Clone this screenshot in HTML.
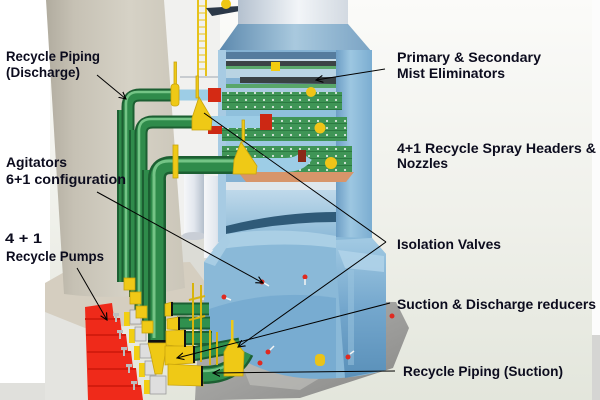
<!DOCTYPE html>
<html><head><meta charset="utf-8"><style>
html,body{margin:0;padding:0;background:#fff;}
svg{display:block;}
text{font-family:"Liberation Sans","Noto Sans CJK KR",sans-serif;font-weight:bold;font-size:14px;fill:#0c0c1e;}
</style></head><body>
<svg width="600" height="400" viewBox="0 0 600 400" xmlns="http://www.w3.org/2000/svg">
<defs>
 <linearGradient id="bg" x1="0" y1="0" x2="0" y2="1">
  <stop offset="0" stop-color="#fbfbf9"/><stop offset="0.55" stop-color="#eff0ea"/><stop offset="1" stop-color="#e3e6dc"/>
 </linearGradient>
 <linearGradient id="chim" x1="0" y1="0" x2="1" y2="0">
  <stop offset="0" stop-color="#b1ac9f"/><stop offset="0.2" stop-color="#c6c1b4"/><stop offset="0.6" stop-color="#d6d2c6"/><stop offset="1" stop-color="#cbc6b9"/>
 </linearGradient>
 <linearGradient id="duct" x1="0" y1="0" x2="1" y2="0">
  <stop offset="0" stop-color="#b4c1cf"/><stop offset="0.55" stop-color="#f2f5f8"/><stop offset="1" stop-color="#d2d9e1"/>
 </linearGradient>
 <linearGradient id="roof" x1="0" y1="0" x2="1" y2="0">
  <stop offset="0" stop-color="#5b88ad"/><stop offset="0.5" stop-color="#a9c9de"/><stop offset="1" stop-color="#7aa3c4"/>
 </linearGradient>
 <linearGradient id="col" x1="0" y1="0" x2="1" y2="0">
  <stop offset="0" stop-color="#6d9ec5"/><stop offset="0.4" stop-color="#9dc7e1"/><stop offset="1" stop-color="#7badd1"/>
 </linearGradient>
 <linearGradient id="col2" x1="0" y1="0" x2="0" y2="1">
  <stop offset="0" stop-color="#a2cae3"/><stop offset="0.5" stop-color="#74a7cd"/><stop offset="1" stop-color="#5a90b9"/>
 </linearGradient>
 <linearGradient id="inner" x1="0" y1="0" x2="0" y2="1">
  <stop offset="0" stop-color="#bfd9ea"/><stop offset="1" stop-color="#88b7d6"/>
 </linearGradient>
 <linearGradient id="plat" x1="0" y1="0" x2="1" y2="1">
  <stop offset="0" stop-color="#b8b8b5"/><stop offset="0.6" stop-color="#9c9c9a"/><stop offset="1" stop-color="#878785"/>
 </linearGradient>
 <linearGradient id="cyl" x1="0" y1="0" x2="1" y2="0">
  <stop offset="0" stop-color="#f6f7f9"/><stop offset="0.5" stop-color="#e2e7ee"/><stop offset="1" stop-color="#b4bfcc"/>
 </linearGradient>
 <pattern id="grate" width="9" height="7" patternUnits="userSpaceOnUse">
  <rect width="9" height="7" fill="#3f9556"/>
  <rect x="0" y="4" width="9" height="1" fill="#2b7a41"/>
  <circle cx="3" cy="2" r="1.1" fill="#dbe8df"/>
 </pattern>
 <marker id="ar" markerWidth="8" markerHeight="8" refX="7" refY="4" orient="auto" markerUnits="userSpaceOnUse">
  <path d="M0,0.5 L7,4 L0,7.5" fill="none" stroke="#000" stroke-width="1.1"/>
 </marker>
</defs>

<!-- background -->
<rect width="600" height="400" fill="url(#bg)"/>
<rect x="592" y="0" width="8" height="335" fill="#fcfcfc"/>
<rect x="592" y="335" width="8" height="65" fill="#d5d5d3"/>
<rect x="0" y="0" width="50" height="383" fill="#ffffff"/>
<rect x="0" y="383" width="90" height="17" fill="#e0e0dc"/>
<rect x="45" y="290" width="60" height="110" fill="#e4e4e0"/>
<rect x="164" y="0" width="56" height="300" fill="#f1f1ef"/>
<rect x="164" y="235" width="60" height="70" fill="#dcdcd6"/>

<!-- chimney base -->
<polygon points="45,283 75,266 190,262 208,286 196,314 150,325 85,328 45,312" fill="#d5cec0"/>
<!-- chimney -->
<path d="M46,0 L164,0 L185,288 Q125,302 64,294 Z" fill="url(#chim)"/>

<!-- background structures -->
<rect x="184" y="172" width="20" height="64" fill="url(#cyl)"/>
<ellipse cx="194" cy="236" rx="12" ry="4" fill="#c9ced6"/>
<rect x="204" y="176" width="24" height="82" fill="url(#cyl)"/>
<!-- ladder -->
<rect x="197" y="0" width="2" height="76" fill="#e6c21a"/>
<rect x="205" y="0" width="2" height="76" fill="#e6c21a"/>
<g stroke="#e6c21a" stroke-width="1">
 <line x1="197" y1="6" x2="207" y2="6"/><line x1="197" y1="13" x2="207" y2="13"/><line x1="197" y1="20" x2="207" y2="20"/>
 <line x1="197" y1="27" x2="207" y2="27"/><line x1="197" y1="34" x2="207" y2="34"/><line x1="197" y1="41" x2="207" y2="41"/>
 <line x1="197" y1="48" x2="207" y2="48"/><line x1="197" y1="55" x2="207" y2="55"/><line x1="197" y1="62" x2="207" y2="62"/>
 <line x1="197" y1="69" x2="207" y2="69"/>
</g>
<polygon points="206,8 240,6 240,11 212,16" fill="#2b3848"/>
<circle cx="226" cy="4" r="5" fill="#efc815"/>
<rect x="180" y="76" width="42" height="2" fill="#c8ccd0"/>

<!-- platform under vessel -->
<polygon points="200,300 396,302 409,328 393,368 300,398 220,400 195,400" fill="url(#plat)"/>
<polygon points="240,360 330,372 300,390 250,385" fill="#bdbdb9" opacity="0.7"/>

<!-- top duct & roof -->
<rect x="238" y="0" width="110" height="30" fill="url(#duct)"/>
<polygon points="238,24 348,24 372,52 218,52" fill="url(#roof)"/>

<!-- upper shell -->
<rect x="218" y="50" width="154" height="192" fill="#84b2d3"/>
<rect x="218" y="50" width="8" height="192" fill="#a7cbe3"/>
<rect x="336" y="50" width="36" height="192" fill="url(#col)"/>
<!-- internals -->
<rect x="226" y="52" width="110" height="7" fill="#557c9e"/>
<rect x="226" y="59" width="110" height="3" fill="#c9dde9"/>
<polygon points="226,61 336,61 336,67 226,66" fill="#3b4345"/>
<rect x="226" y="66" width="110" height="3" fill="#5ba86b"/>
<rect x="226" y="69" width="110" height="9" fill="#b9d4e3"/>
<polygon points="240,77 336,77 336,84 240,83" fill="#394143"/>
<rect x="226" y="84" width="110" height="4" fill="#58a66a"/>
<rect x="226" y="88" width="110" height="4" fill="#a9cbe0"/>
<rect x="222" y="92" width="120" height="18" fill="url(#grate)"/>
<rect x="226" y="110" width="110" height="7" fill="#8fc0dc"/>
<rect x="222" y="117" width="125" height="24" fill="url(#grate)"/>
<rect x="226" y="141" width="110" height="5" fill="#9cc8e0"/>
<rect x="222" y="146" width="130" height="27" fill="url(#grate)"/>
<polygon points="238,172 354,172 346,182 246,182" fill="#d7956a"/>
<rect x="226" y="182" width="110" height="9" fill="#dfe7ec"/>
<rect x="271" y="62" width="9" height="9" fill="#f2cc10"/>
<circle cx="311" cy="92" r="5" fill="#f0c418"/>
<circle cx="320" cy="128" r="5.5" fill="#f0c418"/>
<circle cx="331" cy="163" r="6" fill="#f0c418"/>
<!-- inner lower cylinder -->
<rect x="226" y="190" width="110" height="52" fill="url(#inner)"/>
<path d="M226,226 Q282,212 336,212 L336,222 Q282,222 226,234 Z" fill="#2f5a78"/>

<!-- lower shell -->
<path d="M226,234 L204,262 L204,332 Q285,398 386,370 L386,254 L372,238 Z" fill="#8ab9d8"/>
<path d="M226,234 Q282,226 336,236 L336,248 Q282,240 212,250 Z" fill="#aacfe5"/>
<polygon points="226,234 204,262 215,266 230,242" fill="#a8cde4"/>
<path d="M206,310 Q270,288 336,298 L336,378 Q262,385 206,334 Z" fill="#78acd1"/>
<polygon points="336,240 372,238 386,254 386,370 345,378 336,262" fill="url(#col2)"/>
<polygon points="338,250 384,256 384,272 345,268" fill="#b3d5ea" opacity="0.8"/>
<rect x="348" y="270" width="6" height="95" fill="#9cc6e0" opacity="0.5"/>

<!-- agitators -->
<g fill="#e02a20">
 <circle cx="262" cy="282" r="2.5"/><circle cx="224" cy="297" r="2.5"/><circle cx="305" cy="277" r="2.5"/>
 <circle cx="268" cy="352" r="2.5"/><circle cx="260" cy="363" r="2.5"/><circle cx="348" cy="357" r="2.5"/><circle cx="392" cy="316" r="2.5"/>
</g>
<g stroke="#f4f4f4" stroke-width="1.5">
 <line x1="264" y1="283" x2="269" y2="286"/><line x1="226" y1="298" x2="231" y2="300"/><line x1="305" y1="279" x2="305" y2="285"/>
 <line x1="270" y1="350" x2="274" y2="346"/><line x1="350" y1="354" x2="354" y2="351"/>
</g>
<rect x="315" y="354" width="10" height="12" rx="4" fill="#eac318"/>

<!-- in-vessel light blue header pipes -->
<g fill="none" stroke-linecap="butt">
 <path d="M175,95 H214" stroke="#9dcde6" stroke-width="11"/>
 <path d="M200,122 H268" stroke="#9dcde6" stroke-width="12"/>
 <path d="M250,165 H285 Q300,165 306,156" stroke="#9dcde6" stroke-width="14"/>
</g>
<rect x="208" y="88" width="13" height="14" fill="#d42a14"/>
<rect x="260" y="114" width="12" height="16" fill="#cc2814"/>
<rect x="208" y="126" width="14" height="8" fill="#cc2814"/>
<rect x="298" y="150" width="8" height="12" fill="#8a2a18"/>

<!-- green discharge pipes -->
<g fill="none" stroke-linecap="butt">
 <path d="M122,110 V282" stroke="#1c5f32" stroke-width="10"/>
 <path d="M122,110 V282" stroke="#2f8b4b" stroke-width="6"/>
 <path d="M175,95 H140 Q128,95 128,107 V282" stroke="#1c5f32" stroke-width="13"/>
 <path d="M175,95 H140 Q128,95 128,107 V282" stroke="#2f8b4b" stroke-width="9"/>
 <path d="M175,95 H140 Q128,95 128,107 V282" stroke="#74c486" stroke-width="2.5" transform="translate(-2,-3)"/>
 <path d="M134,130 V297" stroke="#1c5f32" stroke-width="10"/>
 <path d="M134,130 V297" stroke="#2f8b4b" stroke-width="6"/>
 <path d="M200,122 H153 Q141,122 141,134 V312" stroke="#1c5f32" stroke-width="13"/>
 <path d="M200,122 H153 Q141,122 141,134 V312" stroke="#2f8b4b" stroke-width="9"/>
 <path d="M200,122 H153 Q141,122 141,134 V312" stroke="#74c486" stroke-width="2.5" transform="translate(-2,-3)"/>
 <path d="M147,170 V326" stroke="#1c5f32" stroke-width="10"/>
 <path d="M147,170 V326" stroke="#2f8b4b" stroke-width="6"/>
 <path d="M250,165 H172 Q156,165 157,181 V342" stroke="#1c5f32" stroke-width="18"/>
 <path d="M250,165 H172 Q156,165 157,181 V342" stroke="#2f8b4b" stroke-width="13"/>
 <path d="M250,165 H172 Q156,165 157,181 V342" stroke="#74c486" stroke-width="3" transform="translate(-3,-4)"/>
</g>
<rect x="148" y="340" width="19" height="3" fill="#111"/>
<!-- yellow valves on discharge -->
<g fill="#efc916" stroke="#c9a40c" stroke-width="0.8">
 <rect x="174" y="62" width="2.5" height="22"/>
 <rect x="171" y="84" width="8" height="22" rx="3"/>
 <rect x="196" y="76" width="2.5" height="22"/>
 <polygon points="199,97 212,119 211,130 192,130 192,118"/>
 <rect x="242" y="120" width="2.5" height="22"/>
 <polygon points="241,142 257,166 256,174 233,174 234,160"/>
 <rect x="173" y="145" width="5" height="33"/>
</g>

<!-- suction pipes -->
<g fill="none" stroke-linecap="butt">
 <path d="M170,309 H209" stroke="#1c5f32" stroke-width="13"/><path d="M170,309 H209" stroke="#30904e" stroke-width="9"/>
 <path d="M177,323 H210" stroke="#1c5f32" stroke-width="13"/><path d="M177,323 H210" stroke="#30904e" stroke-width="9"/>
 <path d="M183,338 H212" stroke="#1c5f32" stroke-width="14"/><path d="M183,338 H212" stroke="#30904e" stroke-width="10"/>
 <path d="M192,354 L240,345" stroke="#1c5f32" stroke-width="15"/><path d="M192,354 L240,345" stroke="#30904e" stroke-width="11"/>
 <path d="M200,375 Q234,376 245,352" stroke="#1c5f32" stroke-width="18"/><path d="M200,375 Q234,376 245,352" stroke="#30904e" stroke-width="13"/>
 <path d="M200,371 Q230,372 241,350" stroke="#74c486" stroke-width="2.5"/>
</g>
<!-- yellow valves suction -->
<g stroke="#d8b40c" stroke-width="2" fill="none">
 <path d="M193,283 V362 M201,285 V362 M189,300 L205,296 M189,320 L205,316"/>
 <path d="M210,330 V365 M217,332 V365"/>
</g>
<polygon points="232,338 244,352 243,376 224,376 224,352" fill="#efc916" stroke="#c9a40c" stroke-width="0.8"/>
<rect x="231" y="320" width="2.5" height="20" fill="#efc916"/>

<!-- pumps -->
<polygon points="85,307 112,303 114,318 120,318 122,334 126,334 128,351 131,351 133,368 136,368 138,385 141,385 143,400 88,400" fill="#ef2a1a"/>
<g fill="#d41c0e">
 <rect x="85" y="318" width="35" height="2"/><rect x="86" y="334" width="40" height="2"/>
 <rect x="87" y="351" width="44" height="2"/><rect x="88" y="368" width="48" height="2"/><rect x="88" y="385" width="53" height="2"/>
</g>
<g>
 <rect x="113" y="313" width="6" height="3" fill="#bdbdbd"/><rect x="115" y="313" width="2" height="9" fill="#bdbdbd"/>
 <rect x="117" y="330" width="6" height="3" fill="#bdbdbd"/><rect x="119" y="330" width="2" height="9" fill="#bdbdbd"/>
 <rect x="121" y="347" width="6" height="3" fill="#bdbdbd"/><rect x="123" y="347" width="2" height="9" fill="#bdbdbd"/>
 <rect x="126" y="364" width="6" height="3" fill="#bdbdbd"/><rect x="128" y="364" width="2" height="9" fill="#bdbdbd"/>
 <rect x="131" y="381" width="6" height="3" fill="#bdbdbd"/><rect x="133" y="381" width="2" height="9" fill="#bdbdbd"/>
</g>
<g fill="#f2cf12">
 <rect x="124" y="312" width="6" height="14"/><rect x="129" y="329" width="6" height="14"/>
 <rect x="134" y="346" width="6" height="14"/><rect x="139" y="363" width="6" height="14"/><rect x="144" y="380" width="6" height="14"/>
</g>
<g fill="#dedede" stroke="#9a9a9a" stroke-width="0.8">
 <rect x="130" y="310" width="11" height="14"/><rect x="135" y="327" width="11" height="14"/>
 <rect x="140" y="344" width="11" height="14"/><rect x="145" y="361" width="11" height="14"/>
 <rect x="150" y="376" width="16" height="18"/>
</g>
<!-- pipe end flanges -->
<g fill="#efc916" stroke="#c9a40c" stroke-width="0.8">
 <rect x="124" y="278" width="11" height="12"/>
 <rect x="130" y="292" width="11" height="12"/>
 <rect x="136" y="306" width="11" height="12"/>
 <rect x="142" y="321" width="11" height="12"/>
 <polygon points="148,343 167,343 165,355 162,374 155,374 151,355"/>
 <polygon points="165,304 172,302 172,316 165,316"/>
 <polygon points="167,319 179,317 179,330 167,329"/>
 <polygon points="166,331 185,330 185,347 166,345"/>
 <polygon points="165,346 193,346 195,363 165,365"/>
 <polygon points="168,364 202,366 203,386 168,385"/>
</g>
<g fill="#111">
 <rect x="171" y="302" width="2" height="14"/><rect x="178" y="317" width="2" height="13"/>
 <rect x="184" y="330" width="2" height="17"/><rect x="193" y="346" width="2" height="17"/><rect x="201" y="366" width="2" height="20"/>
</g>

<!-- leader lines -->
<g stroke="#000" stroke-width="1" fill="none">
 <line x1="97" y1="75" x2="126" y2="99" marker-end="url(#ar)"/>
 <line x1="385" y1="69" x2="316" y2="80" marker-end="url(#ar)"/>
 <line x1="97" y1="192" x2="263" y2="283" marker-end="url(#ar)"/>
 <line x1="77" y1="268" x2="107" y2="320" marker-end="url(#ar)"/>
 <line x1="386" y1="242" x2="204" y2="113"/>
 <line x1="386" y1="242" x2="238" y2="347" marker-end="url(#ar)"/>
 <line x1="390" y1="303" x2="177" y2="358" marker-end="url(#ar)"/>
 <line x1="395" y1="371" x2="213" y2="373" marker-end="url(#ar)"/>
</g>

<!-- labels -->
<text x="6" y="61" textLength="94" lengthAdjust="spacingAndGlyphs">Recycle Piping</text>
<text x="6" y="77" textLength="74" lengthAdjust="spacingAndGlyphs">(Discharge)</text>
<text x="6" y="167" textLength="61" lengthAdjust="spacingAndGlyphs">Agitators</text>
<text x="6" y="184" textLength="120" lengthAdjust="spacingAndGlyphs">6+1 configuration</text>
<text x="5" y="243" textLength="37" lengthAdjust="spacingAndGlyphs">4 + 1</text>
<text x="6" y="261" textLength="98" lengthAdjust="spacingAndGlyphs">Recycle Pumps</text>
<text x="397" y="62" textLength="144" lengthAdjust="spacingAndGlyphs">Primary &amp; Secondary</text>
<text x="397" y="78" textLength="108" lengthAdjust="spacingAndGlyphs">Mist Eliminators</text>
<text x="397" y="153" textLength="199" lengthAdjust="spacingAndGlyphs">4+1 Recycle Spray Headers &amp;</text>
<text x="397" y="168" textLength="51" lengthAdjust="spacingAndGlyphs">Nozzles</text>
<text x="397" y="249" textLength="104" lengthAdjust="spacingAndGlyphs">Isolation Valves</text>
<text x="397" y="309" textLength="199" lengthAdjust="spacingAndGlyphs">Suction &amp; Discharge reducers</text>
<text x="403" y="376" textLength="160" lengthAdjust="spacingAndGlyphs">Recycle Piping (Suction)</text>
</svg>
</body></html>
